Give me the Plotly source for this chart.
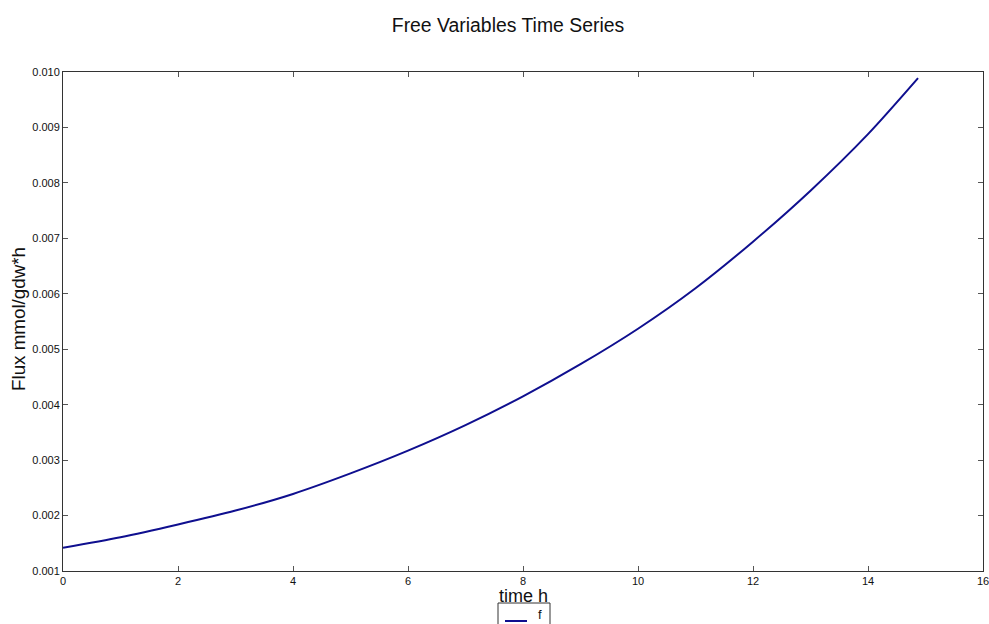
import plotly.graph_objects as go

time_h = [0, 1, 2, 3, 4, 5, 6, 7, 8, 9, 10, 11, 12, 13, 14, 14.87]
flux_f = [0.00142, 0.00161, 0.00184, 0.00209, 0.00239, 0.00276, 0.00317, 0.00363,
          0.00415, 0.00473, 0.00537, 0.00610, 0.00694, 0.00786, 0.00888, 0.00989]
x_ticks = [0, 2, 4, 6, 8, 10, 12, 14, 16]
y_ticks = [0.001, 0.002, 0.003, 0.004, 0.005, 0.006, 0.007, 0.008, 0.009, 0.010]
series_name = "f"
line_color = "#0f0f8f"

L, R, T, B = 63, 6, 72, 53
W, H = 989, 624
pw, ph = W - L - R, H - T - B


def px_x(p):
    return (p - L) / pw


def px_y(p):
    return (T + ph - p) / ph


fig = go.Figure()
fig.add_trace(go.Scatter(x=time_h, y=flux_f, mode="lines", name=series_name, showlegend=False,
                         line=dict(color=line_color, width=2, shape="spline", smoothing=0.8)))

axis_common = dict(showgrid=False, zeroline=False, showline=True, linecolor="#333333",
                   linewidth=1, mirror="allticks", ticks="inside", ticklen=5,
                   tickcolor="#555555", ticklabeloverflow="allow",
                   tickfont=dict(family="Liberation Sans, Arial", size=11, color="#111111"))
fig.update_xaxes(range=[0, 16], tickvals=x_ticks, **axis_common)
fig.update_yaxes(range=[0.001, 0.010], tickvals=y_ticks, tickformat=".3f", **axis_common)

# legend box (partially cut off at the bottom as in the original)
shapes = [
    dict(type="rect", xref="paper", yref="paper", x0=px_x(498), x1=px_x(550),
         y0=px_y(603), y1=px_y(640), line=dict(color="#333333", width=1), fillcolor="white",
         layer="above"),
    dict(type="line", xref="paper", yref="paper", x0=px_x(505), x1=px_x(527),
         y0=px_y(621), y1=px_y(621), line=dict(color=line_color, width=2), layer="above"),
]

fig.update_layout(
    width=W, height=H,
    margin=dict(l=L, r=R, t=T, b=B, autoexpand=False),
    plot_bgcolor="white", paper_bgcolor="white",
    font=dict(family="Liberation Sans, Arial", color="#111111"),
    title=dict(text="Free Variables Time Series", x=508 / W, xanchor="center",
               y=1 - 25 / H, yanchor="middle", font=dict(size=19.4, color="#111111")),
    showlegend=False,
    shapes=shapes,
    annotations=[
        dict(text="time h", x=0.5, y=px_y(596), xref="paper", yref="paper",
             xanchor="center", yanchor="middle", showarrow=False, font=dict(size=18)),
        dict(text="Flux mmol/gdw*h", x=px_x(18), y=px_y(319), xref="paper", yref="paper",
             xanchor="center", yanchor="middle", textangle=-90, showarrow=False,
             font=dict(size=18.8)),
        dict(text=series_name, x=px_x(540), y=px_y(614), xref="paper", yref="paper",
             xanchor="center", yanchor="middle", showarrow=False, font=dict(size=13)),
    ],
)

fig.write_html("out.html")
